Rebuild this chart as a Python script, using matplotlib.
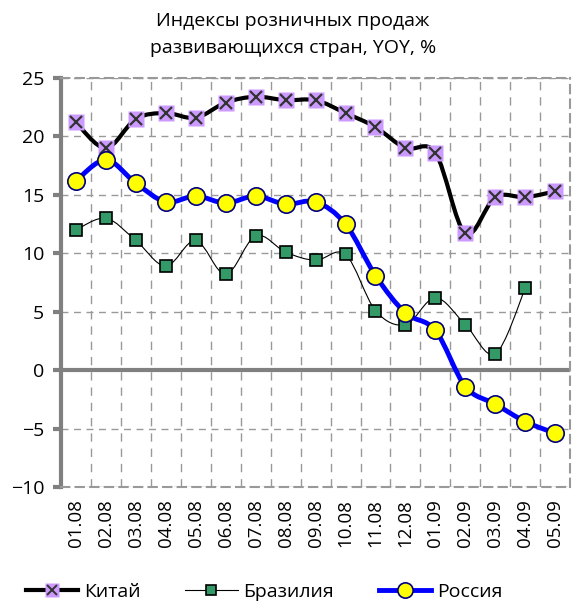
import numpy as np
import matplotlib
matplotlib.use("Agg")
import matplotlib.pyplot as plt
from matplotlib.path import Path
from matplotlib.patches import PathPatch
from matplotlib.lines import Line2D
from matplotlib.legend_handler import HandlerTuple

plt.rcParams['font.family'] = ['Open Sans', 'DejaVu Sans']

# Данные
months = ["01.08", "02.08", "03.08", "04.08", "05.08", "06.08", "07.08", "08.08", "09.08",
          "10.08", "11.08", "12.08", "01.09", "02.09", "03.09", "04.09", "05.09"]
china = [21.2, 19.0, 21.5, 22.0, 21.6, 22.9, 23.4, 23.1, 23.1,
         22.0, 20.8, 19.0, 18.6, 11.7, 14.8, 14.8, 15.3]
brazil = [12.0, 13.0, 11.1, 8.9, 11.1, 8.2, 11.5, 10.1, 9.4,
          9.9, 5.1, 3.9, 6.2, 3.9, 1.4, 7.0, np.nan]
russia = [16.2, 18.0, 16.0, 14.4, 14.9, 14.3, 14.9, 14.2, 14.4,
          12.5, 8.1, 4.9, 3.4, -1.4, -2.9, -4.4, -5.4]


def smooth_path(x, y):
    # сглаженная линия как в Excel (кривые Безье)
    pts = [(a, b) for a, b in zip(x, y) if not np.isnan(b)]
    pts = np.array(pts, dtype=float)
    verts = [tuple(pts[0])]
    codes = [Path.MOVETO]
    n = len(pts)
    for i in range(n - 1):
        p0 = pts[i - 1] if i > 0 else pts[i]
        p1 = pts[i]
        p2 = pts[i + 1]
        p3 = pts[i + 2] if i + 2 < n else pts[i + 1]
        c1 = p1 + (p2 - p0) / 6
        c2 = p2 - (p3 - p1) / 6
        verts += [tuple(c1), tuple(c2), tuple(p2)]
        codes += [Path.CURVE4] * 3
    return Path(verts, codes)


fig = plt.figure(figsize=(5.74, 6.11), dpi=100)
ax = fig.add_axes([0.1063, 0.2029, 0.887, 0.6694])

x = np.arange(len(months))

# линии
ax.add_patch(PathPatch(smooth_path(x, china), fill=False, edgecolor="black", lw=3, zorder=3, capstyle="round"))
ax.add_patch(PathPatch(smooth_path(x, brazil), fill=False, edgecolor="black", lw=0.8, zorder=3))
ax.add_patch(PathPatch(smooth_path(x, russia), fill=False, edgecolor="#0000FF", lw=3.5, zorder=3, capstyle="round"))

# маркеры
ax.plot(x, china, ls="none", marker="s", ms=11.5, mfc="#CC99FF", mec="none", zorder=4)
ax.plot(x, china, ls="none", marker="x", ms=8, mec="#333333", mew=1.6, zorder=5)
ax.plot(x, brazil, ls="none", marker="s", ms=8.5, mfc="#339966", mec="black", mew=1.2, zorder=4)
ax.plot(x, russia, ls="none", marker="o", ms=12.5, mfc="#FFFF00", mec="#000080", mew=1.2, zorder=6)

# оси
ax.set_xlim(-0.5, 16.5)
ax.set_ylim(-10, 25)
ax.set_yticks(np.arange(-10, 26, 5))
ax.set_xticks(x)
ax.set_xticklabels(months, rotation=90, fontsize=13.5)
ax.set_xticks(np.arange(0.5, 16, 1), minor=True)
ax.tick_params(axis="x", which="both", length=0, pad=9)
ax.tick_params(axis="y", length=6, width=3, color="#808080", labelsize=14, pad=6)

ax.grid(True, axis="y", linestyle=(0, (5, 4)), color="#999999", lw=1)
ax.grid(True, axis="x", which="minor", linestyle=(0, (6, 5)), color="#999999", lw=1)
ax.axhline(0, color="#808080", lw=3, zorder=2)

ax.spines["left"].set_color("#808080")
ax.spines["left"].set_linewidth(3)
for s in ["top", "right", "bottom"]:
    ax.spines[s].set_color("#999999")
    ax.spines[s].set_linestyle((0, (4, 3)))
    ax.spines[s].set_linewidth(1.5)

fig.text(0.51, 0.98, "Индексы розничных продаж\nразвивающихся стран, YOY, %",
         ha="center", va="top", fontsize=14, linespacing=1.6)

# легенда
h_china = (Line2D([], [], color="black", lw=3, marker="s", ms=10, mfc="#CC99FF", mec="none"),
           Line2D([], [], ls="none", marker="x", ms=6.5, mec="#333333", mew=1.4))
h_brazil = Line2D([], [], color="black", lw=0.8, marker="s", ms=7.5, mfc="#339966", mec="black", mew=1.2)
h_russia = Line2D([], [], color="#0000FF", lw=3.5, marker="o", ms=11, mfc="#FFFF00", mec="#000080", mew=1.2)
fig.legend([h_china, h_brazil, h_russia], ["Китай", "Бразилия", "Россия"],
           handler_map={tuple: HandlerTuple(ndivide=1)},
           loc="lower center", bbox_to_anchor=(0.46, -0.012), ncol=3, frameon=False,
           fontsize=14, handlelength=2.7, handletextpad=0.3, columnspacing=2.3)

plt.savefig("out.png", dpi=100)
